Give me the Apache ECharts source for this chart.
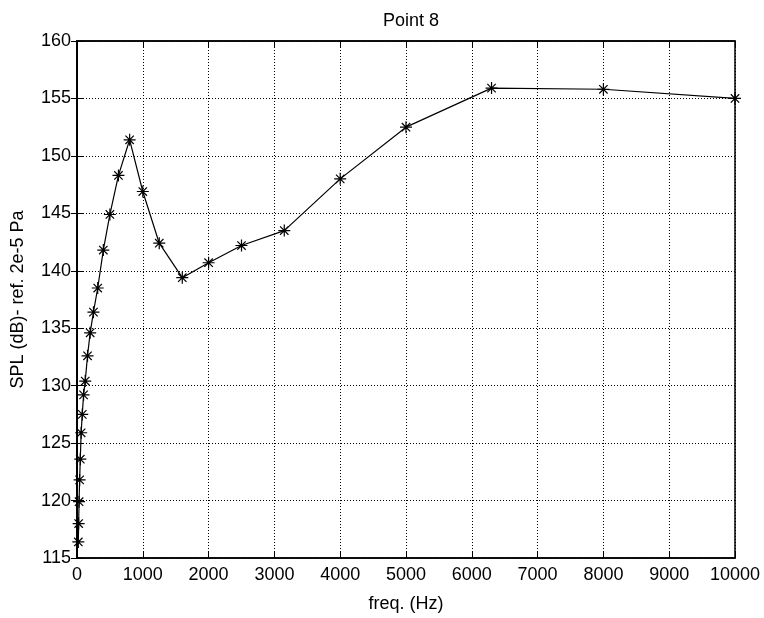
<!DOCTYPE html>
<html>
<head>
<meta charset="utf-8">
<script src="https://cdn.jsdelivr.net/npm/echarts@6/dist/echarts.min.js"></script>
<style>
  html, body { margin: 0; padding: 0; background: #fff; }
  #chart { width: 764px; height: 618px; }
</style>
</head>
<body>
<div id="chart"></div>
<script>
// third-octave band centre frequencies (Hz)
const freqs = [20, 25, 31.5, 40, 50, 63, 80, 100, 125, 160, 200, 250, 315, 400, 500, 630,
  800, 1000, 1250, 1600, 2000, 2500, 3150, 4000, 5000, 6300, 8000, 10000];
// SPL values (dB)
const spl = [116.4, 118.0, 119.9, 121.8, 123.6, 125.9, 127.5, 129.2, 130.4, 132.6, 134.6, 136.4, 138.5, 141.8,
  144.9, 148.3, 151.4, 146.9, 142.4, 139.4, 140.7, 142.2, 143.5, 148.0, 152.5, 155.9, 155.8, 155.0];

let seriesData = []
for (let i = 0; i < freqs.length; i++) {
  seriesData.push([freqs[i], spl[i]])
}

const font = '"Liberation Sans", Arial, sans-serif'
// asterisk marker like matlab '*'
const star = 'path://M0,-1L0,1M-1,0L1,0M-0.7,-0.7L0.7,0.7M-0.7,0.7L0.7,-0.7'

let chart = echarts.init(document.getElementById('chart'))
let gridLine = { show: true, lineStyle: { color: '#000', type: [1, 2], width: 1 } }

let option = {
  animation: false,
  backgroundColor: '#fff',
  title: {
    text: 'Point 8',
    left: 406, top: 7,
    textAlign: 'center',
    textStyle: { fontFamily: font, fontSize: 18, fontWeight: 'normal', color: '#000' }
  },
  grid: {
    left: 77, right: 29, top: 41, bottom: 59,
    show: true, borderColor: '#000', borderWidth: 1.5, backgroundColor: 'transparent'
  },
  xAxis: [{
    type: 'value', min: 0, max: 10000, interval: 1000,
    name: 'freq. (Hz)', nameLocation: 'middle', nameGap: 37,
    nameTextStyle: { fontFamily: font, fontSize: 18, color: '#000' },
    axisLine: { show: true, lineStyle: { color: '#000', width: 1.5 } },
    axisTick: { show: true, inside: true, length: 6, lineStyle: { color: '#000' } },
    axisLabel: { fontFamily: font, fontSize: 18, color: '#000', margin: 8, formatter: v => String(v) },
    splitLine: gridLine
  }, {
    type: 'value', min: 0, max: 10000, interval: 1000, position: 'top',
    axisLine: { show: true, lineStyle: { color: '#000', width: 1.5 } },
    axisTick: { show: true, inside: true, length: 6, lineStyle: { color: '#000' } },
    axisLabel: { show: false },
    splitLine: { show: false }
  }],
  yAxis: [{
    type: 'value', min: 115, max: 160, interval: 5,
    name: 'SPL (dB)- ref. 2e-5 Pa', nameLocation: 'middle', nameGap: 50,
    nameTextStyle: { fontFamily: font, fontSize: 18, color: '#000' },
    axisLine: { show: true, lineStyle: { color: '#000', width: 1.5 } },
    axisTick: { show: true, inside: true, length: 6, lineStyle: { color: '#000' } },
    axisLabel: { fontFamily: font, fontSize: 18, color: '#000', margin: 6 },
    splitLine: gridLine
  }, {
    type: 'value', min: 115, max: 160, interval: 5, position: 'right',
    axisLine: { show: true, lineStyle: { color: '#000', width: 1.5 } },
    axisTick: { show: true, inside: true, length: 6, lineStyle: { color: '#000' } },
    axisLabel: { show: false },
    splitLine: { show: false }
  }],
  series: [{
    type: 'line',
    data: seriesData,
    symbol: star,
    symbolSize: 12,
    showAllSymbol: true,
    lineStyle: { color: '#000', width: 1.2 },
    itemStyle: { color: '#000', borderColor: '#000', borderWidth: 1.2 }
  }]
}

chart.setOption(option)
window.addEventListener('resize', () => { chart.resize() })
</script>
</body>
</html>
